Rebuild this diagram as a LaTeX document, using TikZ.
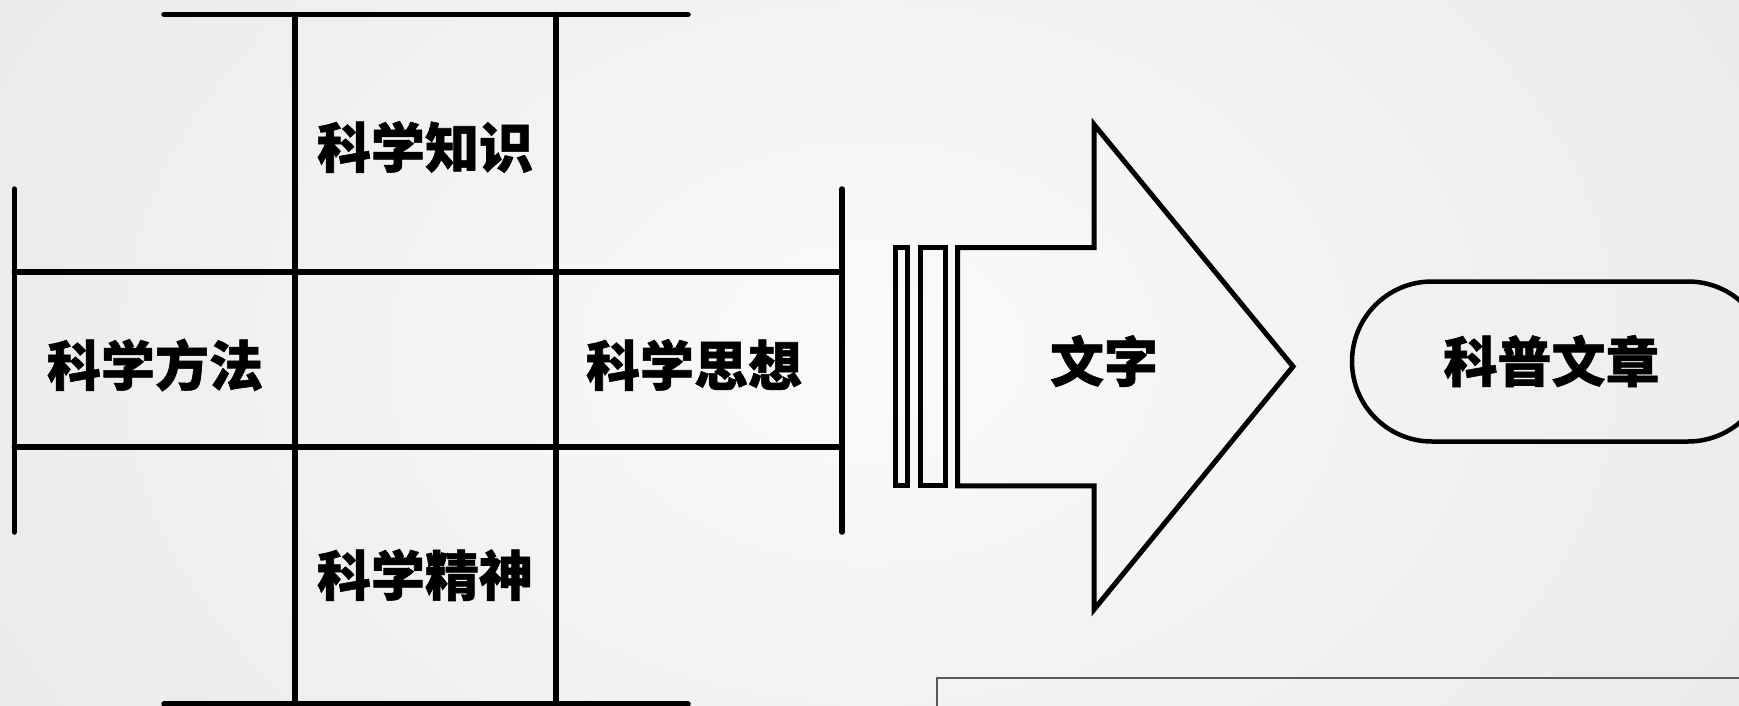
\documentclass[tikz,border=0pt]{standalone}
\usepackage{fontspec}
\newfontfamily\cjk{Noto Sans CJK SC}[BoldFeatures={FakeBold=1}]
\begin{document}
\begin{tikzpicture}[x=1pt,y=-1pt,
  grid/.style={line width=5.5pt,line cap=round},
  shapeline/.style={line width=5pt,line join=miter},
  lbl/.style={font=\cjk\bfseries\fontsize{54}{62}\selectfont,inner sep=0pt,anchor=center}]
\useasboundingbox (0,0) rectangle (1739,705);
\clip (0,0) rectangle (1739,705);
\shade[inner color=white!98!black,outer color=white!91!black] (-300,-500) rectangle (2039,1205);
% grid
\draw[grid] (164,14.5) -- (688,14.5);
\draw[grid] (164,704) -- (688,704);
\draw[grid] (295,14.5) -- (295,720);
\draw[grid] (556,14.5) -- (556,720);
\draw[grid] (14.4,272) -- (842,272);
\draw[grid] (14.4,447) -- (842,447);
\draw[grid] (14.4,189) -- (14.4,532);
\draw[grid] (842,189) -- (842,532);
\node[lbl] (zhishi) at (425,147) {科学知识};
\node[lbl] (fangfa) at (155,365) {科学方法};
\node[lbl] (sixiang) at (694,365) {科学思想};
\node[lbl] (jingshen) at (425,575) {科学精神};
% arrow
\draw[shapeline] (895.8,247.5) rectangle (907.8,485.8);
\draw[shapeline] (920.8,247.5) rectangle (945.2,485.8);
\draw[shapeline] (957.5,247.5) -- (1094,247.5) -- (1094,124.5) -- (1293,366.5)
  -- (1094,609.5) -- (1094,485.8) -- (957.5,485.8) -- cycle;
\node[lbl] (wenzi) at (1104,361) {文字};
% stadium
\draw[line width=4.5pt] (1432,281.5) -- (1688,281.5) arc[start angle=-90,end angle=90,radius=80]
  -- (1432,441.5) arc[start angle=90,end angle=270,radius=80] -- cycle;
\node[lbl] (kepu) at (1551.5,361) {科普文章};
% bottom box
\draw[line width=2pt,draw=black!65] (937,760) -- (937,678) -- (1760,678);
\end{tikzpicture}
\end{document}
